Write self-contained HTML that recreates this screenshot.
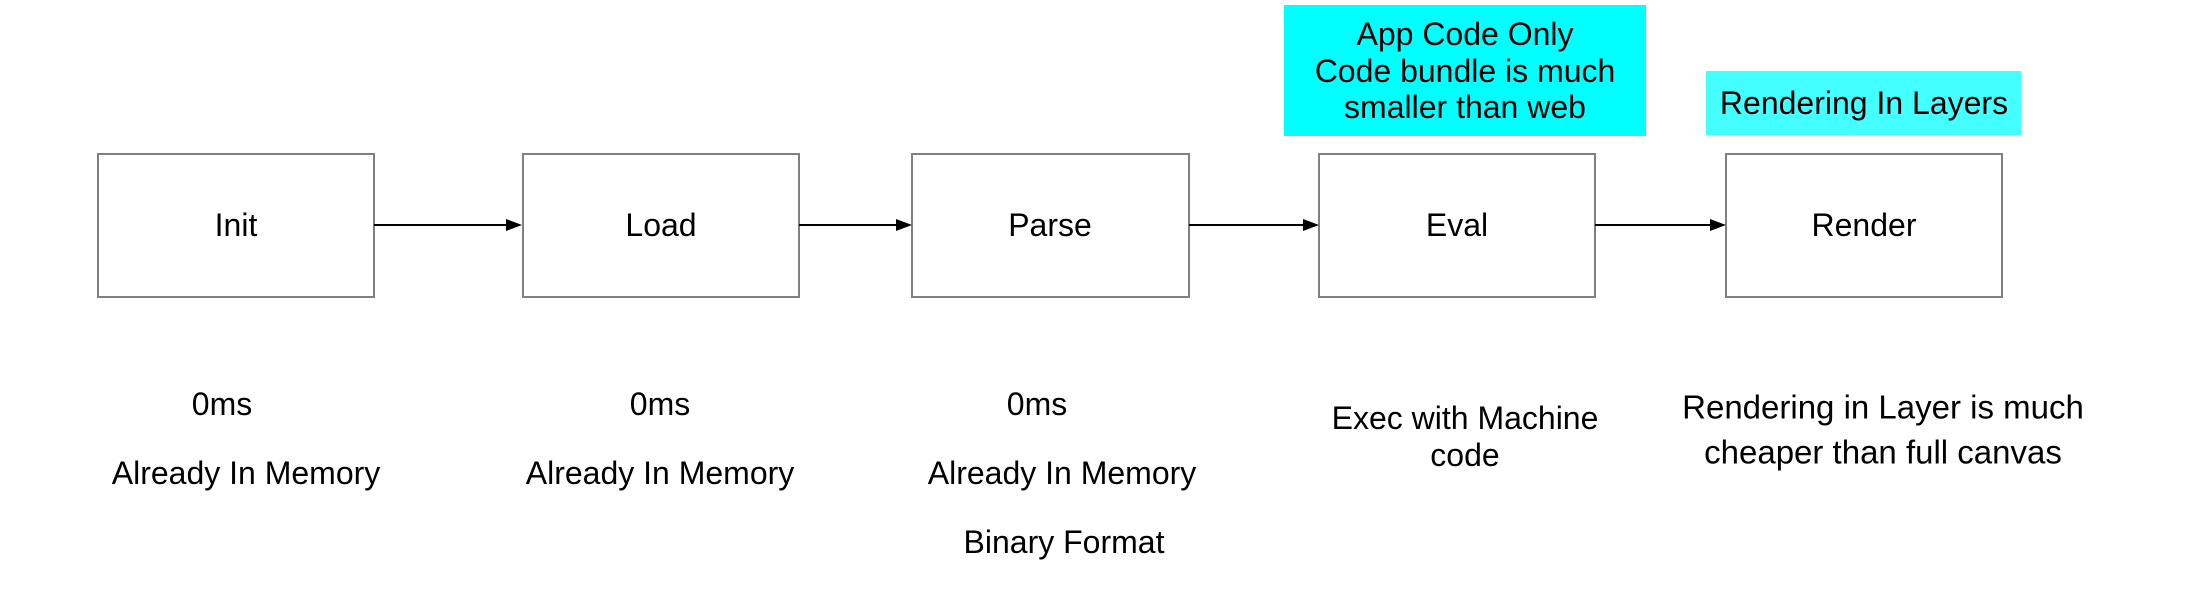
<!DOCTYPE html>
<html><head><meta charset="utf-8"><style>
html,body{margin:0;padding:0;background:#fff}
body{width:2206px;height:612px;position:relative;overflow:hidden;font-family:"Liberation Sans",Arial,sans-serif;color:#000}
.t{position:absolute;font-size:32px;white-space:nowrap;transform:translate(-50%,-50%);line-height:1}
</style></head><body>
<svg width="2206" height="612" style="position:absolute;left:0;top:0">
<rect x="1284" y="5" width="362" height="131" fill="#00ffff"/>
<rect x="1706" y="71" width="315" height="64" fill="#44ffff"/>
<g fill="#fff" stroke="#808080" stroke-width="2">
<rect x="98" y="154" width="276" height="143"/>
<rect x="523" y="154" width="276" height="143"/>
<rect x="912" y="154" width="277" height="143"/>
<rect x="1319" y="154" width="276" height="143"/>
<rect x="1726" y="154" width="276" height="143"/>
</g>
<g stroke="#000" stroke-width="2">
<line x1="374" y1="225" x2="508" y2="225"/>
<line x1="799" y1="225" x2="898" y2="225"/>
<line x1="1189" y1="225" x2="1305" y2="225"/>
<line x1="1595" y1="225" x2="1712" y2="225"/>
</g>
<g fill="#000">
<polygon points="506,219 522,225 506,231"/>
<polygon points="896,219 912,225 896,231"/>
<polygon points="1303,219 1319,225 1303,231"/>
<polygon points="1710,219 1726,225 1710,231"/>
</g>
</svg>
<div class="t" style="left:236px;top:225px">Init</div>
<div class="t" style="left:661px;top:225px">Load</div>
<div class="t" style="left:1050px;top:225px">Parse</div>
<div class="t" style="left:1457px;top:225px">Eval</div>
<div class="t" style="left:1864px;top:225px">Render</div>
<div class="t" style="left:1465px;top:34px">App Code Only</div>
<div class="t" style="left:1465px;top:71px">Code bundle is much</div>
<div class="t" style="left:1465px;top:107px">smaller than web</div>
<div class="t" style="left:1864px;top:103px">Rendering In Layers</div>
<div class="t" style="left:222px;top:404px">0ms</div>
<div class="t" style="left:660px;top:404px">0ms</div>
<div class="t" style="left:1037px;top:404px">0ms</div>
<div class="t" style="left:246px;top:473px">Already In Memory</div>
<div class="t" style="left:660px;top:473px">Already In Memory</div>
<div class="t" style="left:1062px;top:473px">Already In Memory</div>
<div class="t" style="left:1064px;top:542px">Binary Format</div>
<div class="t" style="left:1465px;top:418px">Exec with Machine</div>
<div class="t" style="left:1465px;top:455px">code</div>
<div class="t" style="left:1883px;top:407px;font-size:33px">Rendering in Layer is much</div>
<div class="t" style="left:1883px;top:452px;font-size:33px">cheaper than full canvas</div>
</body></html>
